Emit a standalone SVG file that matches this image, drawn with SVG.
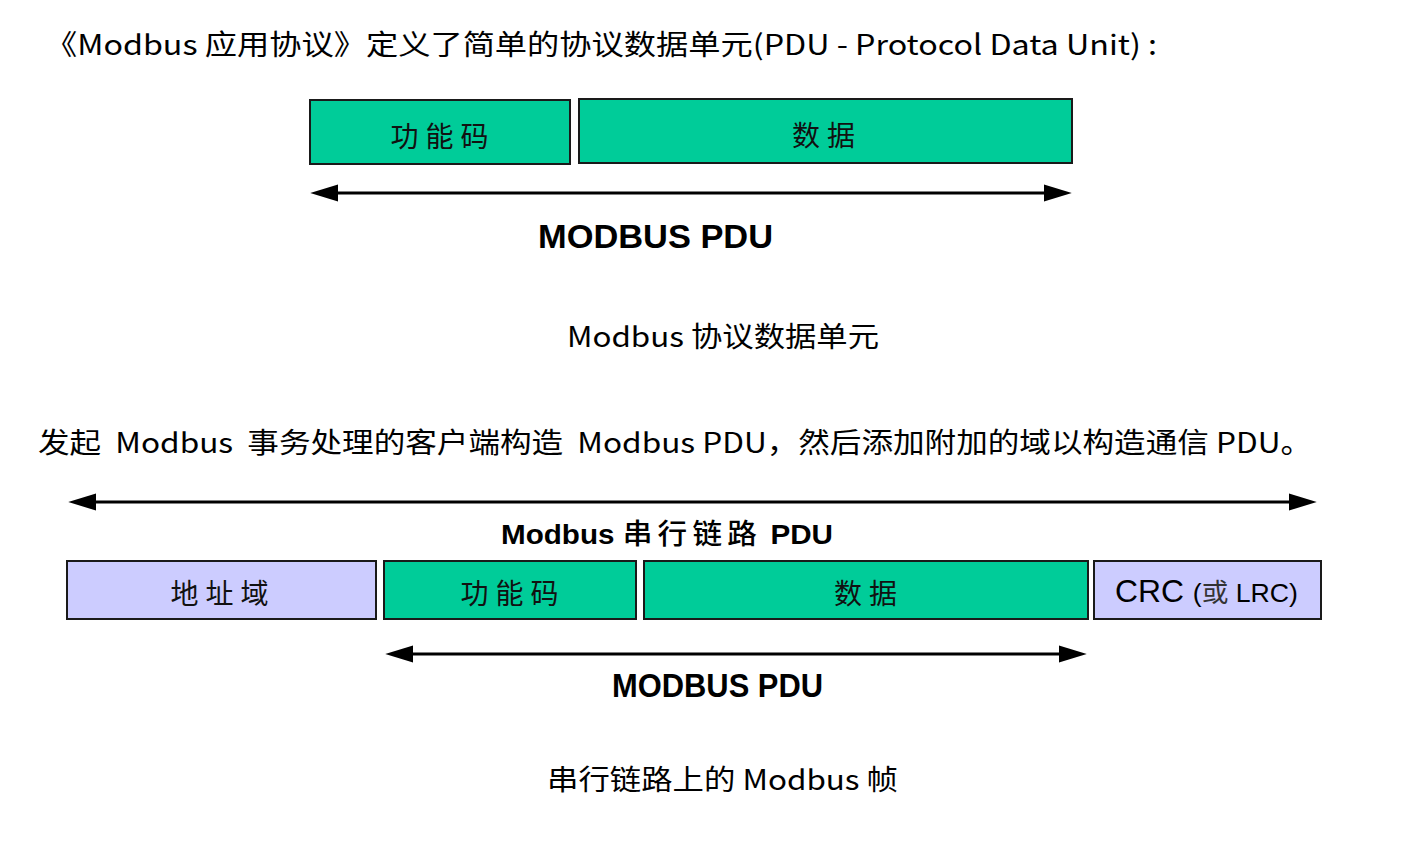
<svg xmlns="http://www.w3.org/2000/svg" width="1410" height="844" viewBox="0 0 1410 844">
<style>
.t{font-family:"Noto Sans CJK SC","Liberation Sans",sans-serif;fill:#000}
.b{font-family:"Liberation Sans","Noto Sans CJK SC",sans-serif;font-weight:bold;fill:#000}
.lbl{font-family:"Noto Sans CJK SC",sans-serif;font-size:28px;fill:#111;text-anchor:middle}
.g{fill:#00CC99;stroke:#1a1a1a;stroke-width:2}
.p{fill:#CCCCFF;stroke:#1a1a1a;stroke-width:2}
.arr{stroke:#000;stroke-width:3;fill:none;marker-start:url(#ah);marker-end:url(#ah)}
</style>
<defs>
<marker id="ah" markerUnits="userSpaceOnUse" markerWidth="28" markerHeight="18" refX="16" refY="8" orient="auto-start-reverse" viewBox="0 0 26 16">
<path d="M0,0 L26,8 L0,16 z" fill="#000"/>
</marker>
</defs>
<rect width="1410" height="844" fill="#fff"/>
<text class="t" x="45" y="55" font-size="28" textLength="1112" lengthAdjust="spacingAndGlyphs">《Modbus 应用协议》定义了简单的协议数据单元(PDU - Protocol Data Unit) :</text>
<g id="top-func"><rect class="g" x="310" y="100" width="260" height="64"/><text class="lbl" x="443" y="147" letter-spacing="7">功能码</text></g>
<g id="top-data"><rect class="g" x="579" y="99" width="493" height="64"/><text class="lbl" x="827" y="146" letter-spacing="7">数据</text></g>
<g id="connectors">
<line class="arr" x1="321" y1="193" x2="1061" y2="193"/>
<line class="arr" x1="79" y1="502" x2="1306" y2="502"/>
<line class="arr" x1="396" y1="654" x2="1076" y2="654"/>
</g>
<text class="b" x="538" y="248" font-size="34" textLength="235" lengthAdjust="spacingAndGlyphs">MODBUS PDU</text>
<text class="t" x="567" y="347" font-size="28" textLength="312" lengthAdjust="spacingAndGlyphs">Modbus 协议数据单元</text>
<text class="t" x="38" y="453" font-size="28" xml:space="preserve" textLength="1274" lengthAdjust="spacingAndGlyphs">发起  Modbus  事务处理的客户端构造  Modbus PDU，然后添加附加的域以构造通信 PDU。</text>
<text class="b" x="501" y="544" font-size="28" textLength="332" lengthAdjust="spacingAndGlyphs">Modbus <tspan font-weight="500" letter-spacing="5">串行链路</tspan> PDU</text>
<g id="addr"><rect class="p" x="67" y="561" width="309" height="58"/><text class="lbl" x="223" y="604" font-size="27" letter-spacing="7">地址域</text></g>
<g id="func"><rect class="g" x="384" y="561" width="252" height="58"/><text class="lbl" x="513" y="604" font-size="27" letter-spacing="7">功能码</text></g>
<g id="data"><rect class="g" x="644" y="561" width="444" height="58"/><text class="lbl" x="869" y="604" font-size="27" letter-spacing="7">数据</text></g>
<g id="crc"><rect class="p" x="1094" y="561" width="227" height="58"/><text x="1115" y="602" font-family="Liberation Sans, Noto Sans CJK SC, sans-serif" fill="#000" textLength="183" lengthAdjust="spacingAndGlyphs"><tspan font-size="31">CRC </tspan><tspan font-size="26">(</tspan><tspan font-size="26" font-family="Noto Sans CJK SC, sans-serif" fill="#333">或</tspan><tspan font-size="26"> LRC)</tspan></text></g>
<text class="b" x="612" y="697" font-size="34" textLength="211" lengthAdjust="spacingAndGlyphs">MODBUS PDU</text>
<text class="t" x="547" y="790" font-size="28" textLength="351" lengthAdjust="spacingAndGlyphs">串行链路上的 Modbus 帧</text>
</svg>
